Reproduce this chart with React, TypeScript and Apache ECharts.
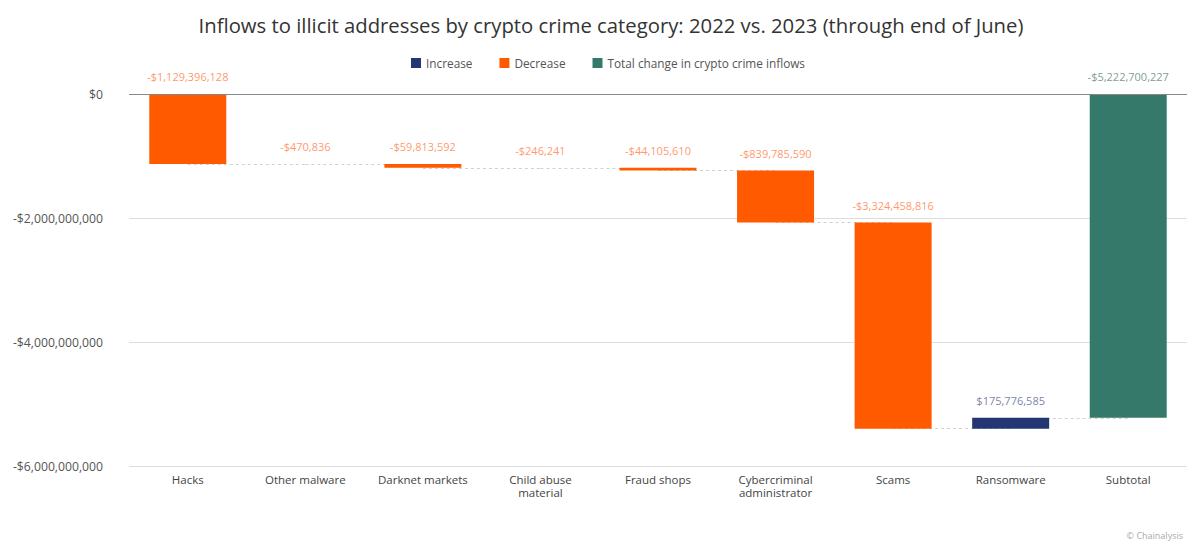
import React, { useEffect, useRef } from "react";
import * as echarts from "echarts";

const categories = [
  "Hacks",
  "Other malware",
  "Darknet markets",
  "Child abuse\nmaterial",
  "Fraud shops",
  "Cybercriminal\nadministrator",
  "Scams",
  "Ransomware",
  "Subtotal",
];
const changes = [
  -1129396128, -470836, -59813592, -246241, -44105610, -839785590, -3324458816, 175776585,
];
const subtotal = -5222700227;
const yTicks = [0, -2000000000, -4000000000, -6000000000];

const COLORS = { increase: "#233672", decrease: "#FF5A00", total: "#34796A" };
const LABEL_COLORS = { increase: "#56628f", decrease: "#FF7D45", total: "#5a8278" };

const fmt = (v: number) => {
  const s = "$" + Math.abs(Math.round(v)).toLocaleString("en-US");
  return v < 0 ? "-" + s : s;
};

export default function App() {
  const ref = useRef<HTMLDivElement>(null);
  useEffect(() => {
    document.body.style.margin = "0";
    const chart = echarts.init(ref.current!, null, { renderer: "svg" });

    const base: any[] = [];
    const inc: any[] = [];
    const dec: any[] = [];
    const tot: any[] = [];
    const labels: any[] = [];
    const connectors: any[] = [];
    let cum = 0;
    changes.forEach((c, i) => {
      const start = cum;
      const end = cum + c;
      if (c < 0) {
        base.push(start === 0 ? "-" : start);
        dec.push(c);
        inc.push("-");
        labels.push({ value: [i, start], kind: "decrease", text: fmt(c) });
      } else {
        base.push(end);
        inc.push(-c);
        dec.push("-");
        labels.push({ value: [i, end], kind: "increase", text: fmt(c) });
      }
      tot.push("-");
      connectors.push([{ coord: [i, end] }, { coord: [i + 1, end] }]);
      cum = end;
    });
    base.push("-");
    inc.push("-");
    dec.push("-");
    tot.push(subtotal);
    labels.push({ value: [categories.length - 1, 0], kind: "total", text: fmt(subtotal) });

    const font = "Open Sans";
    chart.setOption({
      animation: false,
      textStyle: { fontFamily: font },
      title: {
        text: "Inflows to illicit addresses by crypto crime category: 2022 vs. 2023 (through end of June)",
        left: 606,
        textAlign: "center",
        top: 10,
        textStyle: { fontFamily: font, fontSize: 20.3, fontWeight: 500, color: "#333" },
      },
      legend: {
        top: 52,
        left: 406,
        itemWidth: 10,
        itemHeight: 10,
        itemGap: 27,
        icon: "rect",
        data: ["Increase", "Decrease", "Total change in crypto crime inflows"],
        textStyle: { fontFamily: font, fontSize: 11.8, color: "#555" },
      },
      grid: { left: 129, right: 10, top: 94, bottom: 78 },
      xAxis: {
        type: "category",
        data: categories,
        axisTick: { show: false },
        axisLine: { show: false },
        axisLabel: { color: "#444", fontSize: 11.5, margin: 7, lineHeight: 13, interval: 0 },
      },
      yAxis: {
        type: "value",
        min: yTicks[3],
        max: yTicks[0],
        interval: 2000000000,
        axisLabel: {
          color: "#555",
          fontSize: 12.2,
          margin: 26,
          formatter: (v: number) => fmt(v),
        },
        axisLine: { show: false },
        axisTick: { show: false },
        splitLine: { lineStyle: { color: "#dedede" } },
      },
      series: [
        {
          type: "line",
          data: [],
          z: 1,
          silent: true,
          markLine: {
            z: 1,
            symbol: "none",
            silent: true,
            label: { show: false },
            lineStyle: { color: "#d0d0d0", type: [3, 3], width: 1 },
            data: connectors,
          },
        },
        {
          type: "line",
          data: [],
          z: 6,
          silent: true,
          markLine: {
            z: 6,
            symbol: "none",
            silent: true,
            label: { show: false },
            lineStyle: { color: "#888", type: "solid", width: 1.2 },
            data: [{ yAxis: 0 }],
          },
        },
        {
          name: "base",
          type: "bar",
          stack: "w",
          data: base,
          barWidth: 77,
          itemStyle: { color: "transparent" },
          z: 2,
          silent: true,
        },
        {
          name: "Increase",
          type: "bar",
          stack: "w",
          data: inc,
          barWidth: 77,
          itemStyle: { color: COLORS.increase },
          z: 2,
        },
        {
          name: "Decrease",
          type: "bar",
          stack: "w",
          data: dec,
          barWidth: 77,
          itemStyle: { color: COLORS.decrease },
          z: 2,
        },
        {
          name: "Total change in crypto crime inflows",
          type: "bar",
          stack: "w",
          data: tot,
          barWidth: 77,
          itemStyle: { color: COLORS.total },
          z: 2,
        },
        {
          type: "scatter",
          symbolSize: 0,
          z: 7,
          silent: true,
          data: labels.map((l) => ({
            value: l.value,
            label: {
              show: true,
              position: "top",
              distance: 12,
              formatter: l.text,
              color: (LABEL_COLORS as any)[l.kind],
              fontSize: 11,
              fontFamily: font,
            },
          })),
        },
      ],
      graphic: [
        {
          type: "text",
          right: 14,
          top: 531,
          style: { text: "© Chainalysis", fill: "#aaa", fontSize: 9, fontFamily: font },
        },
      ],
    });
    return () => chart.dispose();
  }, []);
  return <div ref={ref} style={{ width: 1197, height: 544 }} />;
}
